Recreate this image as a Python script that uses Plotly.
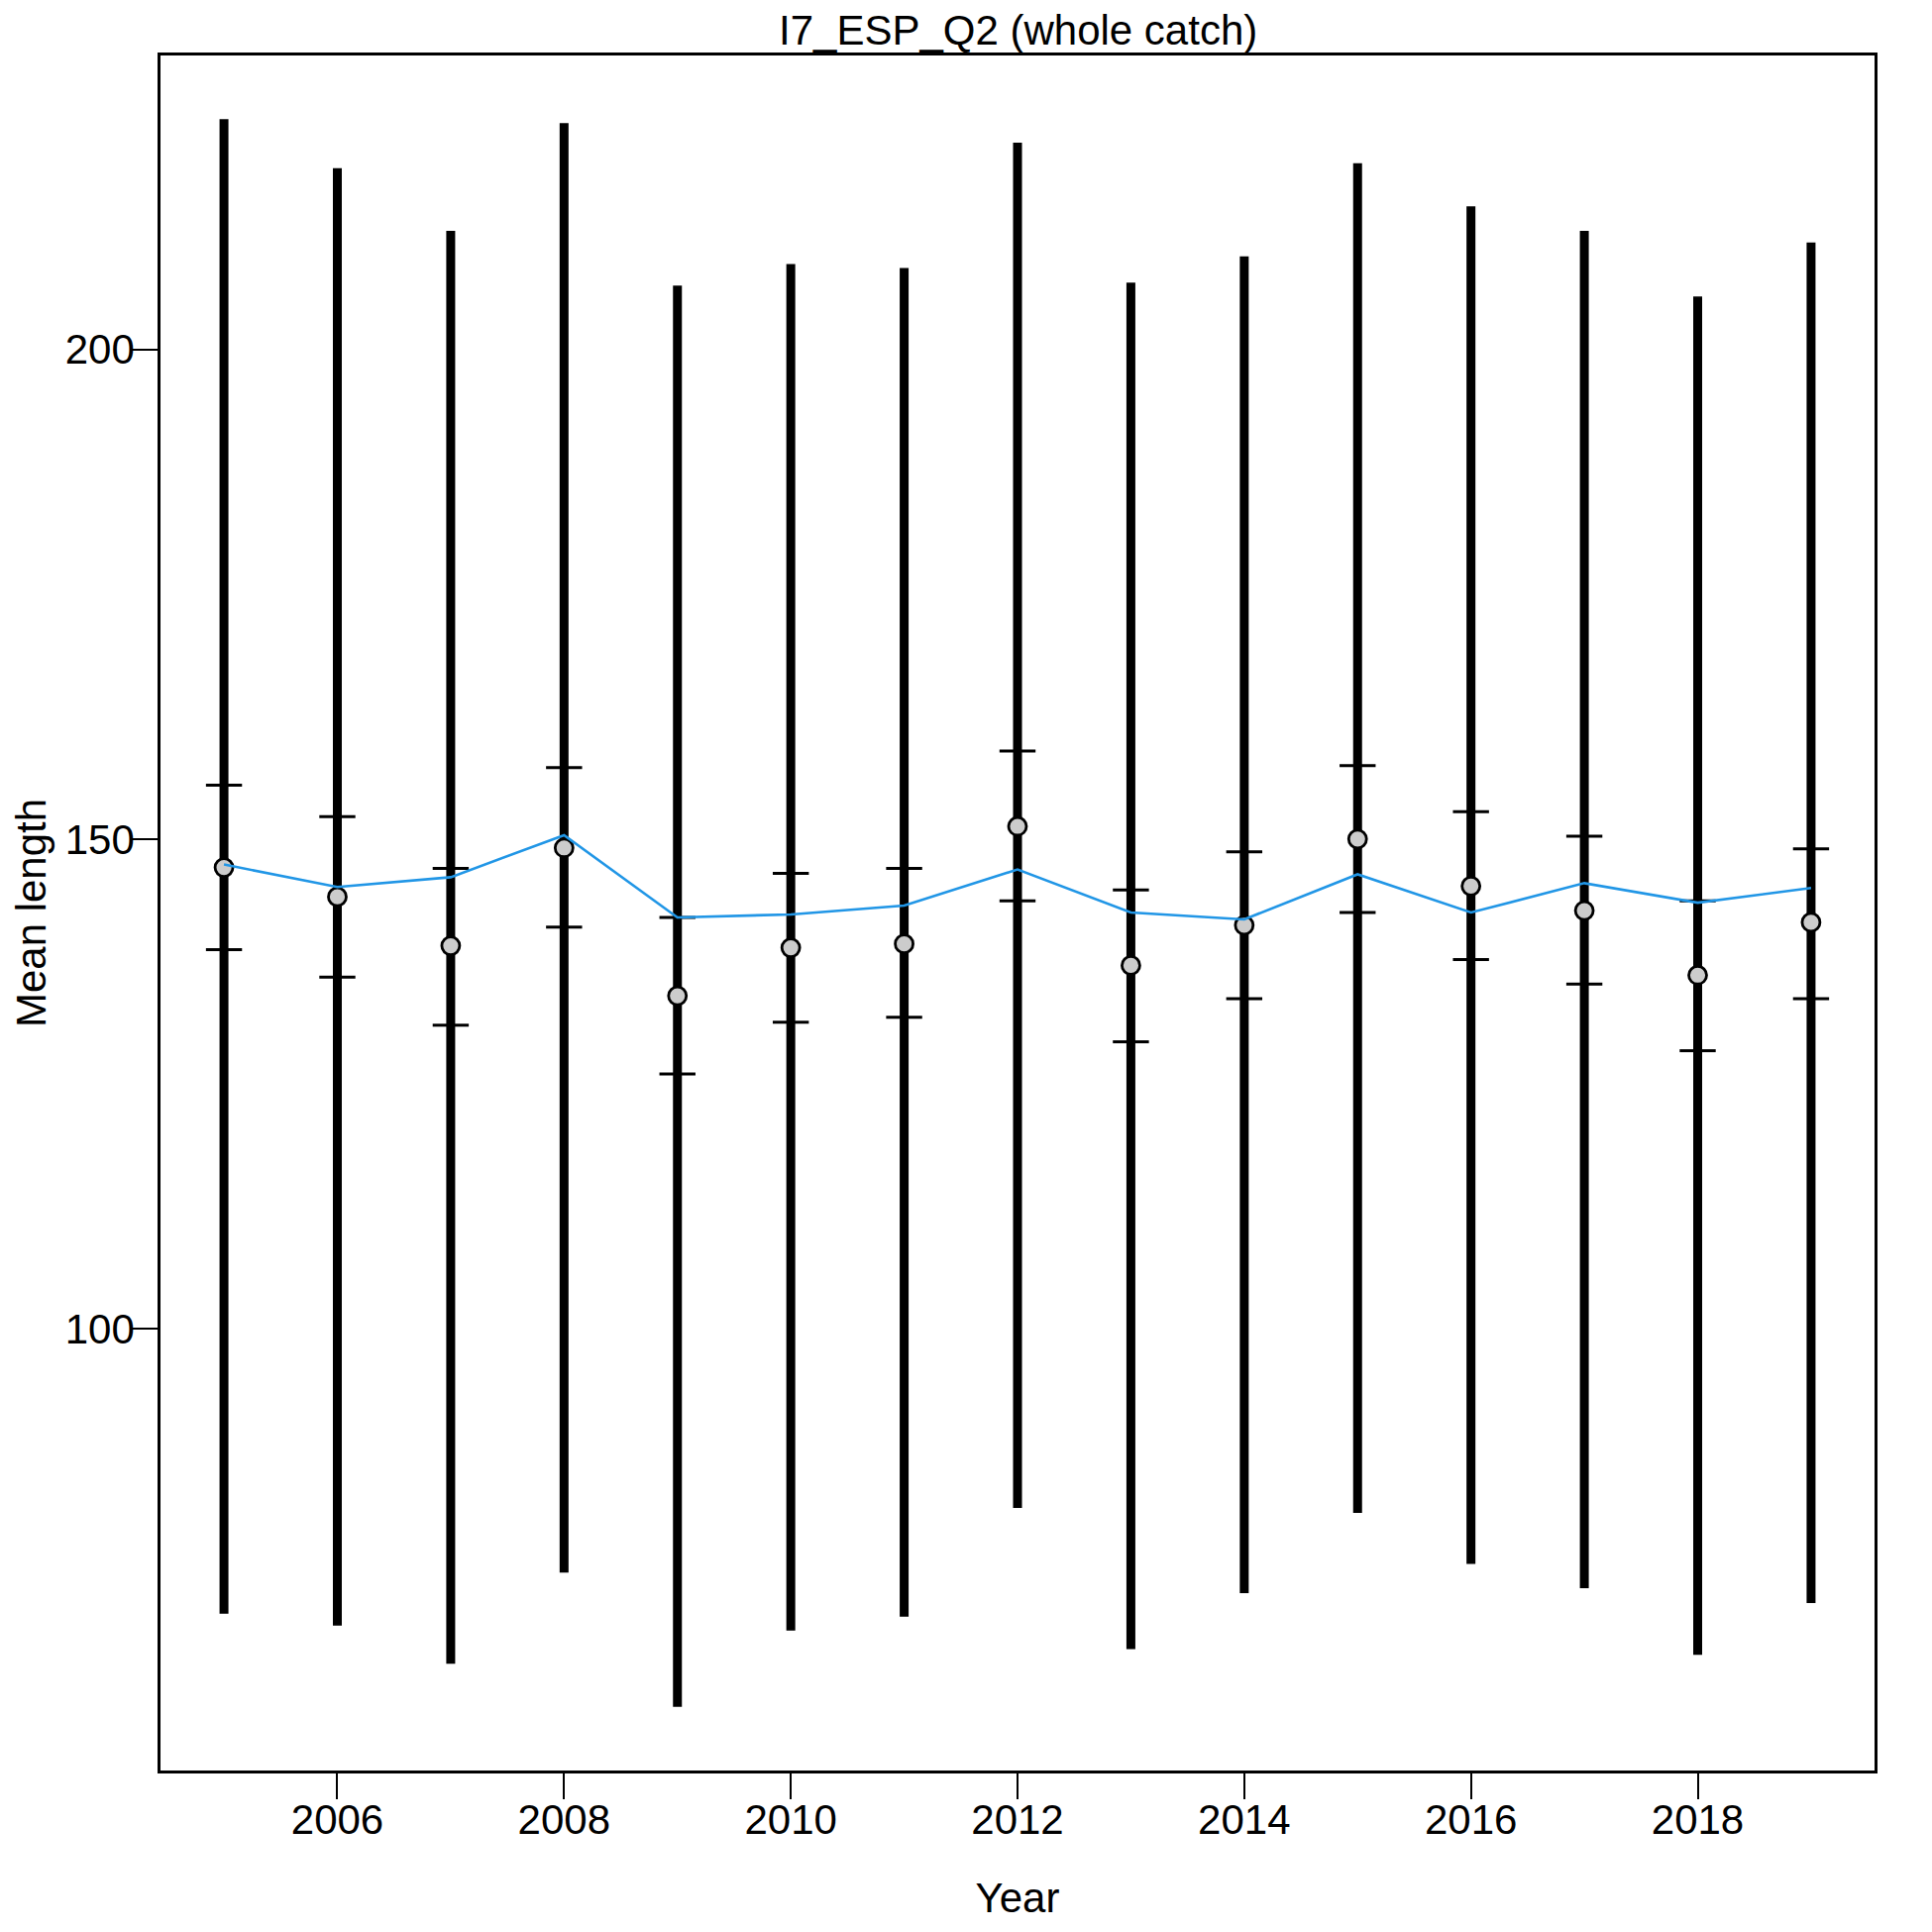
import plotly.graph_objects as go

# ============================================================
# Mean length per year (whole catch)
# ============================================================

years = list(range(2005, 2020))
bar_top = [223.5, 218.5, 212.1, 223.1, 206.5, 208.7, 208.3, 221.1, 206.8, 209.5, 219.0, 214.6, 212.1, 205.4, 210.9]
bar_bottom = [70.9, 69.7, 65.8, 75.1, 61.4, 69.2, 70.6, 81.7, 67.3, 73.0, 81.2, 76.0, 73.5, 66.7, 72.0]
upper_tick = [155.5, 152.3, 147.0, 157.3, 142.0, 146.5, 147.0, 159.0, 144.8, 148.7, 157.5, 152.8, 150.3, 143.7, 149.0]
lower_tick = [138.7, 135.9, 131.0, 141.0, 126.0, 131.3, 131.8, 143.7, 129.3, 133.7, 142.5, 137.7, 135.2, 128.4, 133.7]
mean_pts = [147.1, 144.1, 139.1, 149.1, 134.0, 138.9, 139.3, 151.3, 137.1, 141.2, 150.0, 145.2, 142.7, 136.1, 141.5]
fitted = [147.4, 145.1, 146.1, 150.4, 142.0, 142.3, 143.2, 146.9, 142.5, 141.8, 146.4, 142.5, 145.5, 143.5, 145.0]

FONT = "Liberation Sans, Arial, sans-serif"

fig = go.Figure()

# barras verticales (rango completo)
seg_x, seg_y = [], []
for yr, lo, hi in zip(years, bar_bottom, bar_top):
    seg_x += [yr, yr, None]
    seg_y += [lo, hi, None]
fig.add_trace(go.Scatter(x=seg_x, y=seg_y, mode="lines",
                         line=dict(color="black", width=9), hoverinfo="skip"))

# marcas superior / inferior
fig.add_trace(go.Scatter(x=years + years, y=upper_tick + lower_tick, mode="markers",
                         marker=dict(symbol="line-ew", size=26,
                                     line=dict(color="black", width=3))))

# puntos
fig.add_trace(go.Scatter(x=years, y=mean_pts, mode="markers",
                         marker=dict(symbol="circle", size=18, color="#cccccc",
                                     line=dict(color="black", width=2.8))))

# linea azul
fig.add_trace(go.Scatter(x=years, y=fitted, mode="lines",
                         line=dict(color="#2196E6", width=2.6)))

fig.add_annotation(text="I7_ESP_Q2 (whole catch)", x=0.5, xref="paper", y=1, yref="paper",
                   xanchor="center", yanchor="bottom", yshift=0, showarrow=False,
                   font=dict(size=42, family=FONT, color="black"))

fig.update_layout(
    width=1950, height=1950,
    template="plotly_white",
    plot_bgcolor="white", paper_bgcolor="white",
    showlegend=False,
    font=dict(family=FONT, size=42, color="black"),
    margin=dict(l=154, r=66, t=48, b=171, autoexpand=False),
)
fig.update_xaxes(
    range=[2004.44, 2019.56], tickvals=[2006, 2008, 2010, 2012, 2014, 2016, 2018],
    showgrid=False, zeroline=False, showline=True, linecolor="black", linewidth=2.5,
    mirror=True, ticks="outside", ticklen=26, tickwidth=2, tickcolor="black",
    ticklabelstandoff=-15, automargin=False,
    title=dict(text="Year", standoff=42, font=dict(size=42)), tickfont=dict(size=42),
)
fig.update_yaxes(
    range=[54.9, 230.0], tickvals=[100, 150, 200],
    showgrid=False, zeroline=False, showline=True, linecolor="black", linewidth=2.5,
    mirror=True, ticks="outside", ticklen=26, tickwidth=2, tickcolor="black",
    ticklabelstandoff=-11, automargin=False,
    title=dict(text="Mean length", standoff=8, font=dict(size=42)), tickfont=dict(size=42),
)

fig.write_html("out.html")
